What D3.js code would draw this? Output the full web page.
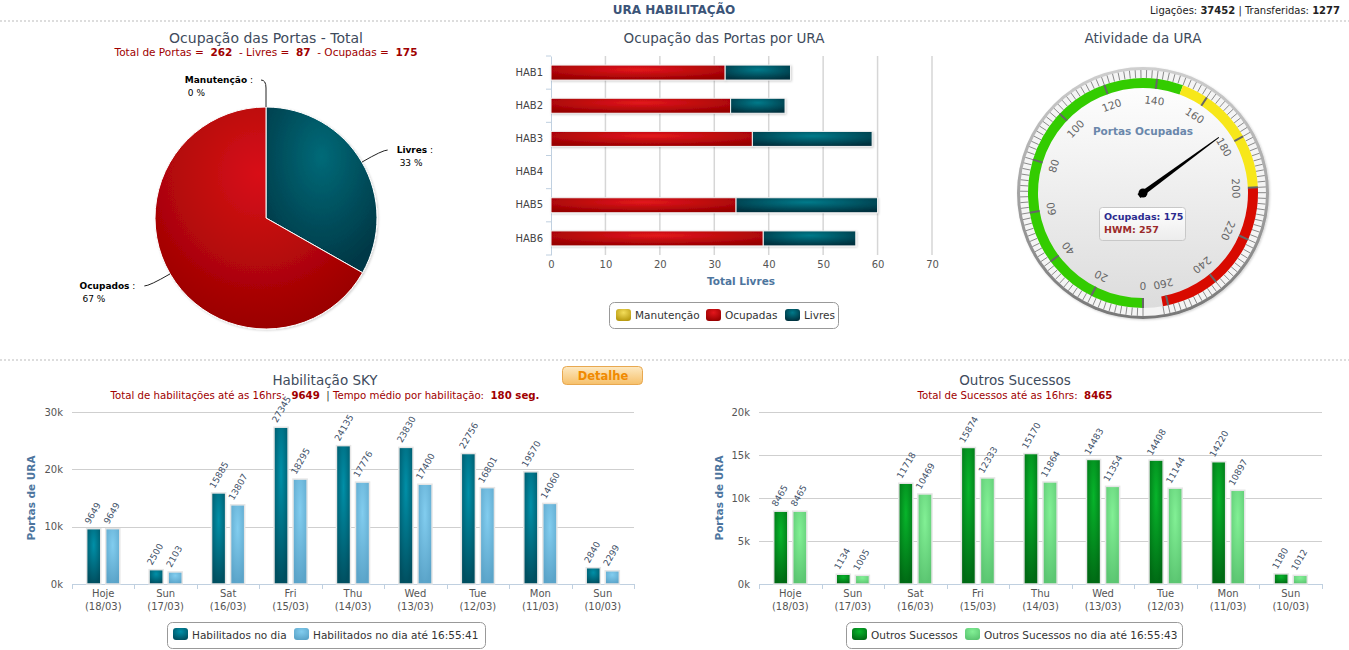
<!DOCTYPE html>
<html><head><meta charset="utf-8">
<script src="https://cdn.jsdelivr.net/npm/d3@7"></script>
<style>
html,body{margin:0;padding:0;background:#fff;}
svg{display:block;font-family:"DejaVu Sans",Verdana,sans-serif;}
svg text{white-space:pre;}
</style></head>
<body>
<svg id="c" width="1349" height="650"></svg>
<script>
// ---------- DATA ----------
const headerTitle = "URA HABILITAÇÃO";
const ligacoes = 37452, transferidas = 1277;

const pieLabels = ["Manutenção", "Livres", "Ocupados"];
const pieValues = [0, 87, 175];
const pieTotals = {total: 262, livres: 87, ocupadas: 175};

const uraCategories = ["HAB1", "HAB2", "HAB3", "HAB4", "HAB5", "HAB6"];
const uraManutencao = [0, 0, 0, 0, 0, 0];
const uraOcupadas = [32, 33, 37, 0, 34, 39];
const uraLivres = [12, 10, 22, 0, 26, 17];
const uraTicks = [0, 10, 20, 30, 40, 50, 60, 70];
const uraSeriesNames = ["Manutenção", "Ocupadas", "Livres"];

const gaugeMin = 0, gaugeMax = 262;
const gaugeTicks = [0, 20, 40, 60, 80, 100, 120, 140, 160, 180, 200, 220, 240, 260];
const gaugeBandFrom = [0, 150, 200];
const gaugeBandTo = [150, 200, 262];
const gaugeValue = 175, gaugeHWM = 257;

const dayNames = ["Hoje", "Sun", "Sat", "Fri", "Thu", "Wed", "Tue", "Mon", "Sun"];
const dayDates = ["(18/03)", "(17/03)", "(16/03)", "(15/03)", "(14/03)", "(13/03)", "(12/03)", "(11/03)", "(10/03)"];
const habNoDia = [9649, 2500, 15885, 27345, 24135, 23830, 22756, 19570, 2840];
const habAte = [9649, 2103, 13807, 18295, 17776, 17400, 16801, 14060, 2299];
const habTicks = [0, 10000, 20000, 30000];
const outNoDia = [8465, 1134, 11718, 15874, 15170, 14483, 14408, 14220, 1180];
const outAte = [8465, 1005, 10469, 12333, 11864, 11354, 11144, 10897, 1012];
const outTicks = [0, 5000, 10000, 15000, 20000];

// ---------- SETUP ----------
const svg = d3.select("#c");
const defs = svg.append("defs");
function radGrad(id, c0, c1, cx = 0.5, cy = 0.3, r = 0.7) {
  const g = defs.append("radialGradient").attr("id", id)
    .attr("cx", cx).attr("cy", cy).attr("r", r);
  g.append("stop").attr("offset", 0).attr("stop-color", c0);
  g.append("stop").attr("offset", 1).attr("stop-color", c1);
}
function linGrad(id, stops, x2 = 0, y2 = 1) {
  const g = defs.append("linearGradient").attr("id", id)
    .attr("x1", 0).attr("y1", 0).attr("x2", x2).attr("y2", y2);
  stops.forEach(s => g.append("stop").attr("offset", s[0]).attr("stop-color", s[1]));
}
radGrad("gRed", "#e3161c", "#980000");
radGrad("gTeal", "#007a8a", "#00323f");
radGrad("gYel", "#f3dd5a", "#b89a10");
radGrad("gPieRed", "#d81118", "#9a0000", 0.5, 0.3, 0.7);
radGrad("gPieTeal", "#006a78", "#003846", 0.5, 0.3, 0.7);
radGrad("gHab1", "#0090a8", "#004f60");
radGrad("gHab2", "#82cdef", "#5ba4c9");
radGrad("gOut1", "#07b52b", "#006a14");
radGrad("gOut2", "#82f095", "#5cc672");
linGrad("gFace", [[0, "#ffffff"], [1, "#dcdcdc"]]);
linGrad("gBezel", [[0, "#cfcfcf"], [1, "#777"]]);
linGrad("gBtn", [[0, "#fde9c2"], [1, "#f6c06a"]]);
linGrad("gBox", [[0, "#ffffff"], [1, "#ececec"]]);
const shadow = defs.append("filter").attr("id", "shadow").attr("x", "-20%").attr("y", "-20%").attr("width", "140%").attr("height", "140%");
shadow.append("feDropShadow").attr("dx", 1).attr("dy", 1).attr("stdDeviation", 1).attr("flood-color", "#000").attr("flood-opacity", 0.18);

const titleColor = "#3e4b5c";
const redText = "#a00000";
const axisTitleColor = "#4d759e";

// ---------- HEADER ----------
svg.append("text").attr("x", 674).attr("y", 14).attr("text-anchor", "middle")
  .attr("font-size", 12).attr("font-weight", "bold").attr("fill", "#3b5478").text(headerTitle);
const hr = svg.append("text").attr("x", 1340).attr("y", 14).attr("text-anchor", "end").attr("font-size", 10).attr("fill", "#222");
hr.append("tspan").text("Ligações: ");
hr.append("tspan").attr("font-weight", "bold").text(ligacoes);
hr.append("tspan").text(" | Transferidas: ");
hr.append("tspan").attr("font-weight", "bold").text(transferidas);
[21, 360].forEach(y => svg.append("line").attr("x1", 0).attr("x2", 1349).attr("y1", y).attr("y2", y)
  .attr("stroke", "#bbb").attr("stroke-dasharray", "2,2"));

// ---------- PIE ----------
(function () {
  const cx = 266, cy = 218, R = 111;
  svg.append("text").attr("x", cx).attr("y", 43).attr("text-anchor", "middle").attr("font-size", 14).attr("fill", titleColor)
    .text("Ocupação das Portas - Total");
  const st = svg.append("text").attr("x", cx).attr("y", 56).attr("text-anchor", "middle").attr("font-size", 10.5).attr("fill", redText);
  st.append("tspan").text("Total de Portas =  ");
  st.append("tspan").attr("font-weight", "bold").text(pieTotals.total);
  st.append("tspan").text("  - Livres =  ");
  st.append("tspan").attr("font-weight", "bold").text(pieTotals.livres);
  st.append("tspan").text("  - Ocupadas =  ");
  st.append("tspan").attr("font-weight", "bold").text(pieTotals.ocupadas);

  const pie = d3.pie().sort(null)(pieValues);
  const arc = d3.arc().innerRadius(0).outerRadius(R);
  const fills = ["url(#gYel)", "url(#gPieTeal)", "url(#gPieRed)"];
  const g = svg.append("g").attr("transform", `translate(${cx},${cy})`);
  g.selectAll("path").data(pie).join("path").attr("d", arc)
    .attr("fill", (d, i) => fills[i]).attr("stroke", "#fff").attr("stroke-width", 1)
    .attr("filter", "url(#shadow)");
  const total = d3.sum(pieValues);
  pie.forEach((d, i) => {
    const a = (d.startAngle + d.endAngle) / 2;
    const sx = Math.sin(a), sy = -Math.cos(a);
    const p0 = [sx * R, sy * R];
    const right = sx >= 0.01;
    const left = sx <= -0.01;
    let path, lx, ly;
    if (!right && !left) {
      p0[1] = -R;
      path = `M${p0[0]},${p0[1]} L0,${-R - 19} Q0,${-R - 27} -5,${-R - 27}`;
      lx = -13; ly = -R - 27;
    } else {
      const e = [sx * (R + 24), sy * (R + 24)];
      const dir = right ? 1 : -1;
      path = `M${p0[0]},${p0[1]} Q${e[0]},${e[1]} ${e[0] + dir * 5},${e[1]}`;
      lx = e[0] + dir * 14; ly = e[1];
    }
    g.append("path").attr("d", path).attr("fill", "none").attr("stroke", "#222").attr("stroke-width", 1);
    const pct = Math.round(d.value / total * 100) + " %";
    const t = g.append("text").attr("x", lx).attr("y", ly + 3).attr("font-size", 9).attr("fill", "#000")
      .attr("text-anchor", right ? "start" : "end");
    t.append("tspan").attr("font-weight", "bold").text(pieLabels[i]);
    t.append("tspan").text(" :");
    const bb = t.node().getBBox();
    g.append("text").attr("x", bb.x + 3).attr("y", ly + 16).attr("font-size", 9).attr("fill", "#000").text(pct);
  });
})();

// ---------- HORIZONTAL STACKED BAR ----------
(function () {
  svg.append("text").attr("x", 724).attr("y", 43).attr("text-anchor", "middle").attr("font-size", 13.5).attr("fill", titleColor)
    .text("Ocupação das Portas por URA");
  const x = d3.scaleLinear().domain([0, 70]).range([551, 932]);
  const y = d3.scaleBand().domain(uraCategories).range([56, 255]);
  const g = svg.append("g");
  g.selectAll(".grid").data(uraTicks.slice(1)).join("line").attr("x1", d => x(d)).attr("x2", d => x(d))
    .attr("y1", 56).attr("y2", 255).attr("stroke", "#d6d6d6").attr("stroke-width", 1.5);
  const xa = g.append("g").attr("transform", "translate(0,255)").call(d3.axisBottom(x).tickValues(uraTicks).tickSize(0).tickPadding(6));
  xa.select(".domain").remove();
  xa.selectAll("text").attr("font-size", 10).attr("fill", "#555").attr("font-family", "DejaVu Sans");
  const ya = g.append("g").attr("transform", "translate(551,0)").call(d3.axisLeft(y).tickSize(0).tickPadding(8));
  ya.select(".domain").attr("stroke", "#c0d0e0");
  ya.selectAll("text").attr("font-size", 10).attr("fill", "#444").attr("font-family", "DejaVu Sans");
  g.selectAll(".yt").data(d3.range(uraCategories.length + 1)).join("line")
    .attr("x1", 546).attr("x2", 551).attr("y1", i => 56 + i * y.step()).attr("y2", i => 56 + i * y.step())
    .attr("stroke", "#c0d0e0");
  g.append("text").attr("x", 741).attr("y", 285).attr("text-anchor", "middle").attr("font-size", 10.5).attr("font-weight", "bold")
    .attr("fill", axisTitleColor).text("Total Livres");
  const bh = 15;
  uraCategories.forEach((c, i) => {
    const segs = [[uraManutencao[i], "url(#gYel)"], [uraOcupadas[i], "url(#gRed)"], [uraLivres[i], "url(#gTeal)"]];
    let acc = 0;
    segs.forEach(s => {
      if (s[0] > 0) {
        g.append("rect").attr("x", x(acc)).attr("y", y(c) + y.bandwidth() / 2 - bh / 2)
          .attr("width", x(acc + s[0]) - x(acc)).attr("height", bh)
          .attr("fill", s[1]).attr("stroke", "#f2f2f2").attr("stroke-width", 1).attr("filter", "url(#shadow)");
      }
      acc += s[0];
    });
  });
  // legend
  const lg = svg.append("g");
  lg.append("rect").attr("x", 609.5).attr("y", 302.5).attr("width", 229).attr("height", 26).attr("rx", 5)
    .attr("fill", "#fff").attr("stroke", "#999");
  const items = [[616, "url(#gYel)"], [706, "url(#gRed)"], [785, "url(#gTeal)"]];
  items.forEach((it, i) => {
    lg.append("rect").attr("x", it[0]).attr("y", 309).attr("width", 15).attr("height", 12).attr("rx", 3).attr("fill", it[1]);
    lg.append("text").attr("x", it[0] + 19).attr("y", 319).attr("font-size", 10.5).attr("fill", "#333").text(uraSeriesNames[i]);
  });
})();

// ---------- GAUGE ----------
(function () {
  const cx = 1143, cy = 193;
  svg.append("text").attr("x", cx).attr("y", 43).attr("text-anchor", "middle").attr("font-size", 13.5).attr("fill", titleColor)
    .text("Atividade da URA");
  const ang = d3.scaleLinear().domain([gaugeMin, gaugeMax]).range([-180, 170]);
  const rad = d => ang(d) * Math.PI / 180;
  const g = svg.append("g").attr("transform", `translate(${cx},${cy})`);
  g.append("circle").attr("r", 126).attr("fill", "url(#gBezel)").attr("filter", "url(#shadow)");
  g.append("circle").attr("r", 123).attr("fill", "#f4f4f4");
  g.append("circle").attr("r", 115).attr("fill", "url(#gFace)");
  // minor ticks
  const minor = d3.range(gaugeMin, gaugeMax + 0.01, 2);
  g.selectAll(".mt").data(minor).join("line")
    .attr("x1", d => Math.sin(rad(d)) * 115).attr("y1", d => -Math.cos(rad(d)) * 115)
    .attr("x2", d => Math.sin(rad(d)) * 123).attr("y2", d => -Math.cos(rad(d)) * 123)
    .attr("stroke", "#8a8a8a").attr("stroke-width", 1);
  const colors = ["#33cc00", "#f7e71a", "#d80a00"];
  const bandArc = d3.arc().innerRadius(105).outerRadius(115);
  gaugeBandFrom.forEach((f, i) => {
    g.append("path").attr("d", bandArc({startAngle: rad(f), endAngle: rad(gaugeBandTo[i])})).attr("fill", colors[i]);
  });
  // major ticks
  g.selectAll(".Mt").data(gaugeTicks).join("line")
    .attr("x1", d => Math.sin(rad(d)) * 105).attr("y1", d => -Math.cos(rad(d)) * 105)
    .attr("x2", d => Math.sin(rad(d)) * 115).attr("y2", d => -Math.cos(rad(d)) * 115)
    .attr("stroke", "#666").attr("stroke-width", 2);
  g.selectAll(".lb").data(gaugeTicks).join("text")
    .attr("transform", d => `translate(${Math.sin(rad(d)) * 93},${-Math.cos(rad(d)) * 93}) rotate(${ang(d)})`)
    .attr("text-anchor", "middle").attr("dy", "0.35em").attr("font-size", 10.5).attr("fill", "#666").text(d => d);
  g.append("text").attr("x", 0).attr("y", -58).attr("text-anchor", "middle").attr("font-size", 10.5).attr("font-weight", "bold")
    .attr("fill", "#6a87ab").text("Portas Ocupadas");
  // box
  g.append("rect").attr("x", -43.5).attr("y", 14.5).attr("width", 86).attr("height", 33).attr("rx", 3)
    .attr("fill", "url(#gBox)").attr("stroke", "#c8c8c8");
  g.append("text").attr("x", -39).attr("y", 27).attr("font-size", 9.5).attr("font-weight", "bold").attr("fill", "#2b2b8f")
    .text("Ocupadas: " + gaugeValue);
  g.append("text").attr("x", -39).attr("y", 40).attr("font-size", 9.5).attr("font-weight", "bold").attr("fill", "#9b2a2a")
    .text("HWM: " + gaugeHWM);
  // needle
  g.append("path").attr("d", "M-2.5,5 L-0.5,-94 L0.5,-94 L2.5,5 Z").attr("fill", "#000")
    .attr("transform", `rotate(${ang(gaugeValue)})`);
  g.append("circle").attr("r", 4.5).attr("fill", "#000");
})();

// ---------- COLUMN CHARTS ----------
function columnChart(o) {
  const x = d3.scaleBand().domain(d3.range(dayNames.length)).range([o.x0, o.x1]);
  const y = d3.scaleLinear().domain([0, o.max]).range([584, 412]);
  const g = svg.append("g");
  svg.append("text").attr("x", o.tx).attr("y", 385).attr("text-anchor", "middle").attr("font-size", 13.5).attr("fill", titleColor).text(o.title);
  const st = svg.append("text").attr("x", o.tx).attr("y", 399).attr("text-anchor", "middle").attr("font-size", 10.2).attr("fill", redText);
  o.sub.forEach(s => st.append("tspan").attr("font-weight", s[1] ? "bold" : null).attr("fill", s[2] || null).text(s[0]));
  g.selectAll(".gl").data(o.ticks).join("line").attr("x1", o.x0).attr("x2", o.x1)
    .attr("y1", d => Math.round(y(d)) + 0.5).attr("y2", d => Math.round(y(d)) + 0.5).attr("stroke", "#cfcfcf");
  const ya = g.append("g").attr("transform", `translate(${o.x0},0)`).call(d3.axisLeft(y).tickValues(o.ticks).tickSize(0).tickPadding(9).tickFormat(d => d / 1000 + "k"));
  ya.select(".domain").remove();
  ya.selectAll("text").attr("font-size", 10).attr("fill", "#555").attr("font-family", "DejaVu Sans");
  g.append("line").attr("x1", o.x0).attr("x2", o.x1).attr("y1", 584.5).attr("y2", 584.5).attr("stroke", "#c0d0e0");
  g.selectAll(".xt").data(d3.range(dayNames.length + 1)).join("line")
    .attr("x1", i => Math.round(o.x0 + i * x.step()) + 0.5).attr("x2", i => Math.round(o.x0 + i * x.step()) + 0.5)
    .attr("y1", 584).attr("y2", 589).attr("stroke", "#c0d0e0");
  dayNames.forEach((n, i) => {
    const cxp = x(i) + x.bandwidth() / 2;
    g.append("text").attr("x", cxp).attr("y", 597).attr("text-anchor", "middle").attr("font-size", 10).attr("fill", "#555").text(n);
    g.append("text").attr("x", cxp).attr("y", 610).attr("text-anchor", "middle").attr("font-size", 10).attr("fill", "#555").text(dayDates[i]);
  });
  g.append("text").attr("transform", `translate(${o.yt},498) rotate(-90)`).attr("text-anchor", "middle").attr("font-size", 10.5)
    .attr("font-weight", "bold").attr("fill", axisTitleColor).text("Portas de URA");
  const inner = d3.scaleBand().domain([0, 1]).range([0, x.bandwidth()]).paddingInner(0.26).paddingOuter(0.77);
  [o.s1, o.s2].forEach((vals, k) => {
    vals.forEach((v, i) => {
      const bx = x(i) + inner(k), bw = inner.bandwidth();
      g.append("rect").attr("x", bx).attr("y", y(v)).attr("width", bw).attr("height", y(0) - y(v))
        .attr("fill", o.fills[k]).attr("stroke", "#e6e6e6").attr("stroke-width", 1.5);
      g.append("text").attr("transform", `translate(${bx + 3},${y(v) - 4}) rotate(-60)`)
        .attr("font-size", 9).attr("fill", "#3e5068").text(v);
    });
  });
  const lg = svg.append("g");
  lg.append("rect").attr("x", o.lx + 0.5).attr("y", 622.5).attr("width", o.lw).attr("height", 26).attr("rx", 5)
    .attr("fill", "#fff").attr("stroke", "#999");
  o.names.forEach((n, k) => {
    const sx = o.lx + o.lofs[k];
    lg.append("rect").attr("x", sx).attr("y", 628).attr("width", 15).attr("height", 12).attr("rx", 3).attr("fill", o.fills[k]);
    lg.append("text").attr("x", sx + 19).attr("y", 638.5).attr("font-size", 10.5).attr("fill", "#333").text(n);
  });
}
columnChart({
  x0: 72, x1: 634, max: 30000, ticks: habTicks, s1: habNoDia, s2: habAte, fills: ["url(#gHab1)", "url(#gHab2)"],
  title: "Habilitação SKY", tx: 325, yt: 35,
  sub: [["Total de habilitações até as 16hrs:  "], [habNoDia[0], true], ["  | ", false, "#333"], ["Tempo médio por habilitação:  "], ["180 seg.", true]],
  names: ["Habilitados no dia", "Habilitados no dia até 16:55:41"], lx: 167, lw: 318, lofs: [6, 127]
});
columnChart({
  x0: 759, x1: 1322, max: 20000, ticks: outTicks, s1: outNoDia, s2: outAte, fills: ["url(#gOut1)", "url(#gOut2)"],
  title: "Outros Sucessos", tx: 1015, yt: 723,
  sub: [["Total de Sucessos até as 16hrs:  "], [outNoDia[0], true]],
  names: ["Outros Sucessos", "Outros Sucessos no dia até 16:55:43"], lx: 846, lw: 336, lofs: [6, 119]
});
// Detalhe button
svg.append("rect").attr("x", 562.5).attr("y", 366.5).attr("width", 80).attr("height", 18).attr("rx", 4)
  .attr("fill", "url(#gBtn)").attr("stroke", "#e8a850");
svg.append("text").attr("x", 603).attr("y", 380).attr("text-anchor", "middle").attr("font-size", 11.5).attr("font-weight", "bold")
  .attr("fill", "#f08a00").text("Detalhe");
</script>
</body></html>
